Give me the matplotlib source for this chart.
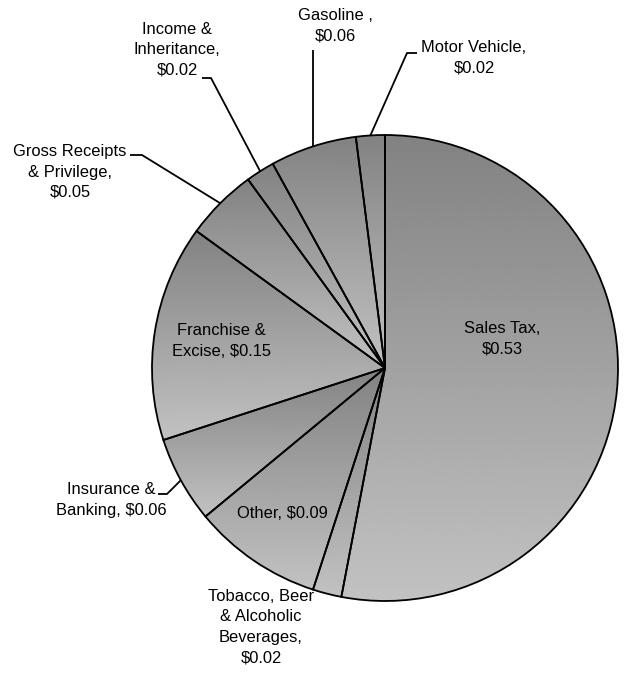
import numpy as np
import matplotlib
matplotlib.use("Agg")
import matplotlib.pyplot as plt

# ---- data ----
categories = ["Sales Tax", "Tobacco, Beer & Alcoholic Beverages", "Other",
              "Insurance & Banking", "Franchise & Excise", "Gross Receipts & Privilege",
              "Income & Inheritance", "Gasoline", "Motor Vehicle"]
values = [0.53, 0.02, 0.09, 0.06, 0.15, 0.05, 0.02, 0.06, 0.02]
labels = ["Sales Tax,\n$0.53",
          "Tobacco, Beer\n& Alcoholic\nBeverages,\n$0.02",
          "Other, $0.09",
          "Insurance &\nBanking, $0.06",
          "Franchise &\nExcise, $0.15",
          "Gross Receipts\n& Privilege,\n$0.05",
          "Income &\nInheritance,\n$0.02",
          "Gasoline ,\n$0.06",
          "Motor Vehicle,\n$0.02"]

W, H = 629, 674
plt.rcParams['font.family'] = ['Liberation Sans', 'DejaVu Sans']

fig = plt.figure(figsize=(W / 100, H / 100), dpi=100)
ax = fig.add_axes([0, 0, 1, 1])

cx, cy, R = 385, H - 368, 233
wedges, _ = ax.pie(values, center=(cx, cy), radius=R, startangle=90,
                   counterclock=False,
                   wedgeprops=dict(facecolor='none', edgecolor='black', linewidth=1.3))

# vertical gradient fill clipped to each wedge
grad = np.linspace(0.76, 0.51, 256).reshape(-1, 1)
for w in wedges:
    w.set_zorder(3)
    ext = w.get_path().get_extents()
    im = ax.imshow(grad, cmap='gray', vmin=0, vmax=1, origin='lower', aspect='auto',
                   extent=[ext.x0, ext.x1, ext.y0, ext.y1], zorder=2, interpolation='bilinear')
    im.set_clip_path(w)

# label placement (pixel coords, y from top) and leader elbows
label_pos = {
    0: (502, 339),
    1: (261, 627),
    2: (282, 513),
    3: (111, 500),
    4: (221, 341),
    5: (70, 172),
    6: (177, 50),
    7: (335, 26),
    8: (474, 58),
}
elbows = {
    3: [(158, 494), (167, 494)],
    5: [(130, 155), (142, 155)],
    6: [(202, 78), (211, 78)],
    7: [(313, 50)],
    8: [(417, 53), (407, 53)],
}

fs = 11.9
for i, lab in enumerate(labels):
    x, y = label_pos[i]
    ax.text(x, H - y, lab, ha='center', va='center', fontsize=fs, color='black',
            linespacing=1.45, zorder=5)

for i, pts in elbows.items():
    w = wedges[i]
    mid = np.deg2rad((w.theta1 + w.theta2) / 2)
    ex, ey = cx + R * np.cos(mid), cy + R * np.sin(mid)
    xs = [p[0] for p in pts] + [ex]
    ys = [H - p[1] for p in pts] + [ey]
    ax.plot(xs, ys, color='black', linewidth=1.3, zorder=4, solid_capstyle='butt')

ax.set_xlim(0, W)
ax.set_ylim(0, H)
ax.set_aspect('equal')
ax.axis('off')
fig.savefig("out.png", dpi=100, facecolor='white')
